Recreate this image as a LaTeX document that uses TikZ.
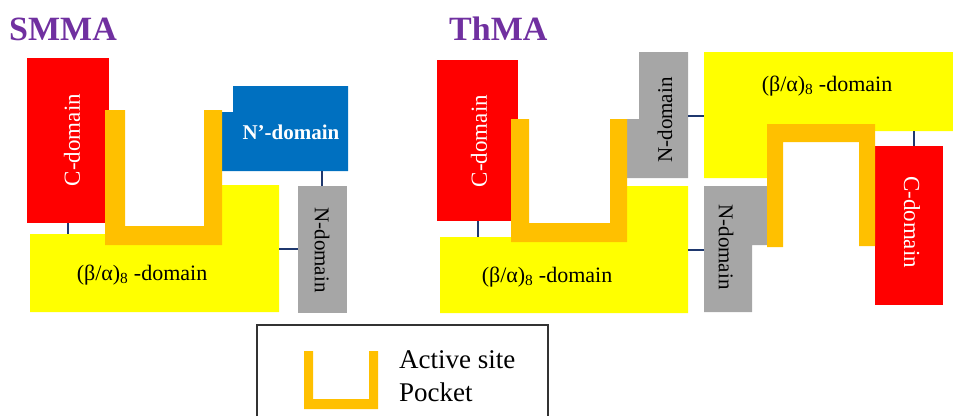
\documentclass[tikz,border=0pt]{standalone}
\usepackage{fontspec}
\setmainfont{Liberation Serif}
\definecolor{domR}{RGB}{255,0,0}
\definecolor{domY}{RGB}{255,255,0}
\definecolor{domO}{RGB}{255,192,0}
\definecolor{domB}{RGB}{0,112,192}
\definecolor{domG}{RGB}{166,166,166}
\definecolor{domL}{RGB}{31,56,110}
\definecolor{domP}{RGB}{112,48,160}

\begin{document}
\begin{tikzpicture}[x=1pt,y=-1pt,
  ttl/.style={font=\fontsize{34}{38}\selectfont\bfseries,text=domP,anchor=base west,inner sep=0pt},
  lbl/.style={font=\fontsize{22}{26}\selectfont,inner sep=0pt},
  link/.style={domL,line width=1.5pt}]
\useasboundingbox (0,0) rectangle (953,416);
% titles
\node[ttl] (tSM) at (9,40) {SMMA};
\node[ttl] (tTh) at (449,40) {ThMA};
% ---- SMMA ----
\fill[domY] (30,234)--(222,234)--(222,185)--(279,185)--(279,312)--(30,312)--cycle;   % (b/a)8
\fill[domR] (27,58) rectangle (109,223);                                             % C
\fill[domB] (222,112)--(233,112)--(233,86)--(348,86)--(348,171)--(222,171)--cycle;   % N'
\fill[domG] (298,186) rectangle (347,313);                                           % N
\fill[domO] (105,110)--(125,110)--(125,226)--(204,226)--(204,110)--(222,110)--(222,245)--(105,245)--cycle;
\node[lbl,text=white,rotate=90,font=\fontsize{23}{26}\selectfont] (smC) at (72,140) {C-domain};
\node[lbl] (smB) at (142,275) {(β/α)\textsubscript{8} -domain};
\node[lbl,text=white,font=\fontsize{21}{24}\selectfont\bfseries] (smNp) at (291,132) {N’-domain};
\node[lbl,rotate=-90,font=\fontsize{21}{24}\selectfont] (smN) at (322,250) {N-domain};
\coordinate (smCb) at (68,223);  \coordinate (smBt) at (68,234);
\coordinate (smNpb) at (322,171); \coordinate (smNt) at (322,186);
\coordinate (smBr) at (279,249); \coordinate (smNl) at (298,249);
\draw[link] (smCb)--(smBt);
\draw[link] (smNpb)--(smNt);
\draw[link] (smBr)--(smNl);
% ---- ThMA ----
\fill[domY] (440,237)--(627,237)--(627,186)--(688,186)--(688,313)--(440,313)--cycle; % lower (b/a)8
\fill[domR] (437,60) rectangle (518,221);                                            % left C
\fill[domG] (625,119)--(639,119)--(639,52)--(688,52)--(688,178)--(625,178)--cycle;   % upper N
\fill[domY] (704,52)--(953,52)--(953,131)--(767,131)--(767,178)--(704,178)--cycle;   % upper (b/a)8
\fill[domR] (875,146) rectangle (943,305);                                           % right C
\fill[domG] (704,186)--(767,186)--(767,245)--(752,245)--(752,312)--(704,312)--cycle; % lower N
\fill[domO] (511,119)--(529,119)--(529,223)--(610,223)--(610,119)--(627,119)--(627,242)--(511,242)--cycle;
\fill[domO] (767,247)--(783,247)--(783,142)--(859,142)--(859,246)--(875,246)--(875,124)--(767,124)--cycle;
\node[lbl,text=white,rotate=90,font=\fontsize{23}{26}\selectfont] (thC) at (479,141) {C-domain};
\node[lbl] (thB) at (547,277) {(β/α)\textsubscript{8} -domain};
\node[lbl,rotate=90,font=\fontsize{21}{24}\selectfont] (thN) at (665,120) {N-domain};
\node[lbl] (thB2) at (827,86) {(β/α)\textsubscript{8} -domain};
\node[lbl,rotate=-90,font=\fontsize{21}{24}\selectfont] (thN2) at (726,247) {N-domain};
\node[lbl,text=white,rotate=-90,font=\fontsize{23}{26}\selectfont] (thC2) at (912,222) {C-domain};
\coordinate (thCb) at (478,221);  \coordinate (thBt) at (478,237);
\coordinate (thNr) at (688,116);  \coordinate (thB2l) at (704,116);
\coordinate (thB2b) at (914,131); \coordinate (thC2t) at (914,146);
\coordinate (thBr) at (688,250);  \coordinate (thN2l) at (704,250);
\draw[link] (thCb)--(thBt);
\draw[link] (thNr)--(thB2l);
\draw[link] (thB2b)--(thC2t);
\draw[link] (thBr)--(thN2l);
% ---- legend ----
\draw[black!80,line width=1.5pt] (257,416)--(257,325)--(548,325)--(548,416);
\fill[domO] (304,351)--(313,351)--(313,399)--(369,399)--(369,351)--(378,351)--(378,409)--(304,409)--cycle;
\node[anchor=west,align=left,inner sep=0pt,font=\fontsize{27}{33}\selectfont] (key) at (399,376) {Active site\\Pocket};
\end{tikzpicture}
\end{document}
